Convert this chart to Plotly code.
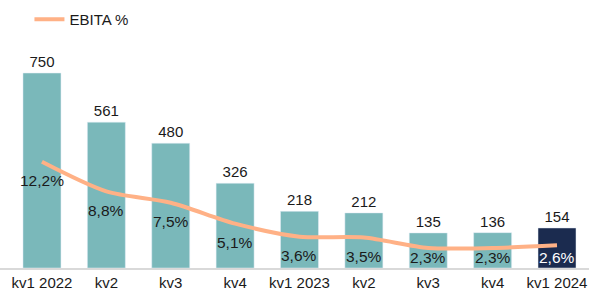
import plotly.graph_objects as go

categories = ["kv1 2022", "kv2", "kv3", "kv4", "kv1 2023", "kv2", "kv3", "kv4", "kv1 2024"]
ebita = [750, 561, 480, 326, 218, 212, 135, 136, 154]
ebita_pct = [12.2, 8.8, 7.5, 5.1, 3.6, 3.5, 2.3, 2.3, 2.6]

xs = list(range(len(categories)))
bar_colors = ["#7AB8BA"] * (len(categories) - 1) + ["#1B2B4F"]
pct_text = [f"{v:.1f}%".replace(".", ",") for v in ebita_pct]
pct_colors = ["#1a1a1a"] * (len(categories) - 1) + ["#ffffff"]

FONT = "Liberation Sans, Arial, sans-serif"

fig = go.Figure()
fig.add_trace(go.Bar(
    x=xs, y=ebita, marker_color=bar_colors, width=0.59,
    text=[str(v) for v in ebita], textposition="outside",
    textfont=dict(size=15, color="#1a1a1a", family=FONT),
    cliponaxis=False, showlegend=False, hoverinfo="skip",
))
fig.add_trace(go.Scatter(
    x=xs, y=ebita_pct, yaxis="y2", mode="lines", name="EBITA %",
    line=dict(color="#FFB186", width=4, shape="spline", smoothing=0.8),
    cliponaxis=False, hoverinfo="skip",
))

# percentage labels below the line, kept above the baseline
for x, v, t, c in zip(xs, ebita_pct, pct_text, pct_colors):
    fig.add_annotation(
        x=x, y=max(v - 2.2, 1.15), xref="x", yref="y2", text=t,
        showarrow=False, font=dict(size=15.5, color=c, family=FONT),
    )

fig.update_layout(
    width=589, height=294,
    margin=dict(l=0, r=0, t=40, b=26, autoexpand=False),
    paper_bgcolor="white", plot_bgcolor="white",
    font=dict(family=FONT, size=15, color="#1a1a1a"),
    xaxis=dict(
        tickmode="array", tickvals=xs, ticktext=categories,
        range=[-0.652, 8.497], showgrid=False, zeroline=False,
        showline=True, linecolor="#D9D9D9", linewidth=1.5,
        ticks="", tickfont=dict(size=15), automargin=False,
    ),
    yaxis=dict(range=[0, 877], visible=False, showgrid=False),
    yaxis2=dict(range=[0, 26.2], overlaying="y", visible=False, showgrid=False),
    legend=dict(x=0.05, y=1.09, xanchor="left", yanchor="middle",
                orientation="h", font=dict(size=15), bgcolor="rgba(0,0,0,0)"),
)

fig.write_html(
    "out.html",
    config={"displayModeBar": False},
    post_script="document.body.style.margin='0';document.body.style.overflow='hidden';",
)
